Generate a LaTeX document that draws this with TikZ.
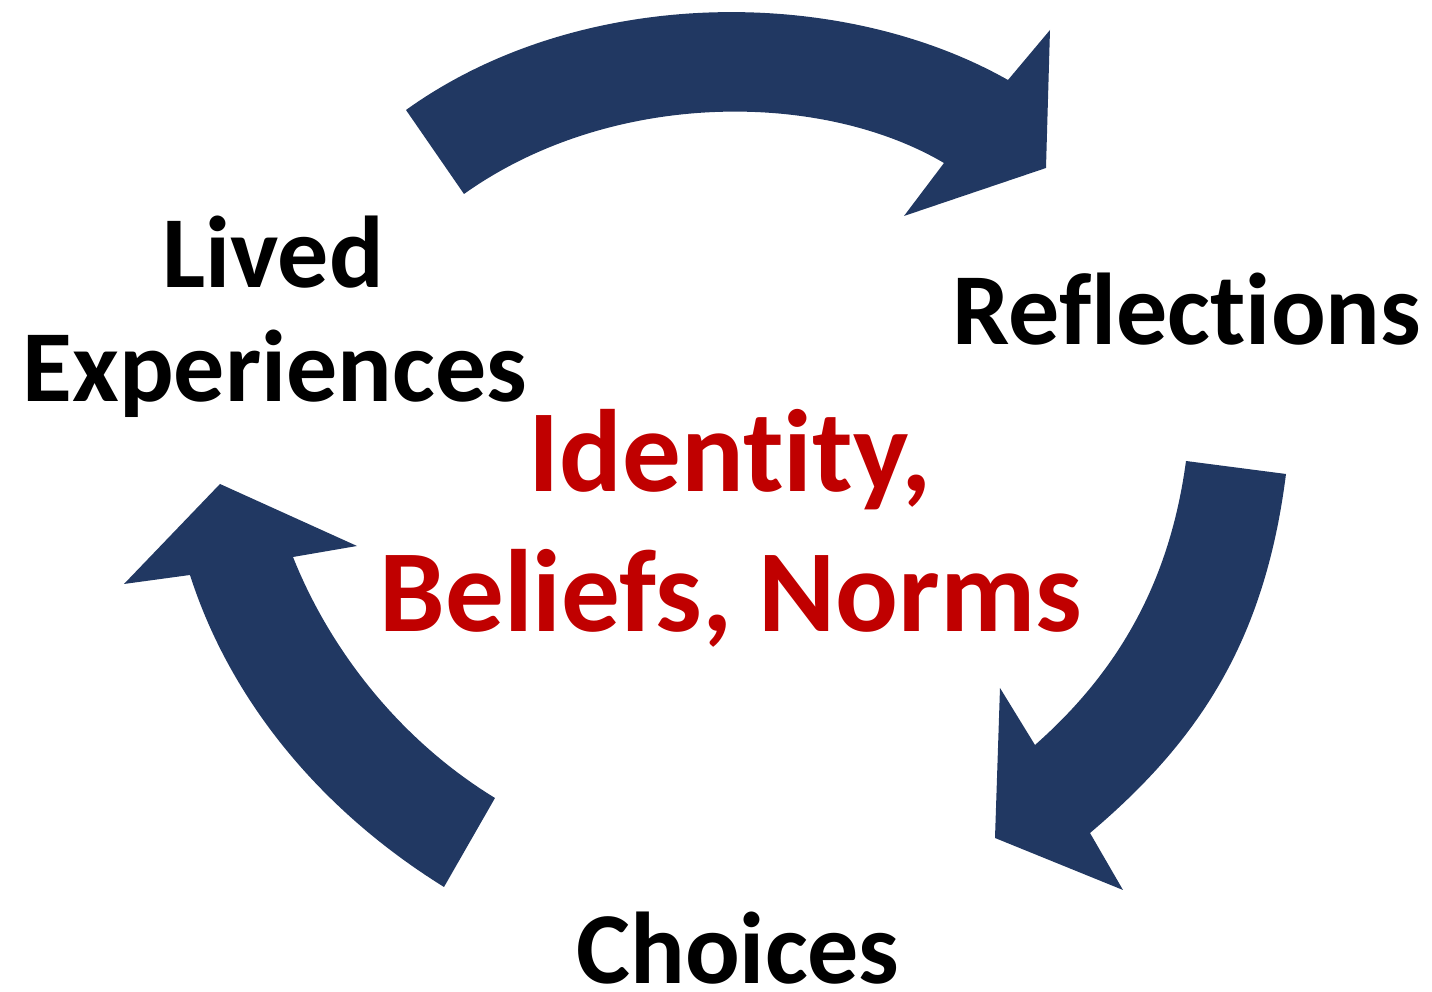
\documentclass[tikz,border=0pt]{standalone}
\usepackage{fontspec}
\setmainfont{Carlito}[Ligatures=NoCommon]
\definecolor{navy}{RGB}{33,56,98}
\definecolor{dred}{RGB}{192,0,0}
\begin{document}
\begin{tikzpicture}[x=0.01cm,y=-0.01cm,
  blockarrow/.style={fill=navy,draw=none},
  steplabel/.style={font=\bfseries\fontsize{29}{34}\selectfont,text=black,inner sep=0pt,align=center},
  corelabel/.style={font=\bfseries\fontsize{33.3}{40}\selectfont,text=dred,inner sep=0pt,align=center}]
\useasboundingbox (0,0) rectangle (1432,992);
% top arrow
\fill[blockarrow] (406,110) .. controls (580,-15) and (840,-15) .. (1008,80)
  -- (1050,30) -- (1046,168) -- (904,216) -- (944,163)
  .. controls (820,90) and (610,90) .. (464,194) -- cycle;
% right arrow
\fill[blockarrow] (1286,474) .. controls (1265,640) and (1200,740) .. (1090,833)
  -- (1123,890) -- (995,838) -- (1000,688) -- (1035,745)
  .. controls (1120,670) and (1170,580) .. (1186,461) -- cycle;
% left arrow
\fill[blockarrow] (444,887) .. controls (320,810) and (230,700) .. (190,575)
  -- (124,584) -- (220,484) -- (357,546) -- (293,557)
  .. controls (330,650) and (400,740) .. (495,798) -- cycle;
\node[steplabel,anchor=base] (lived) at (273,288) {Lived};
\node[steplabel,anchor=base] (exp) at (275,402) {Experiences};
\node[steplabel,anchor=base] (refl) at (1187,345) {Reflections};
\node[steplabel,anchor=base] (choices) at (738,984) {Choices};
\node[corelabel,anchor=base] (id) at (730,492) {Identity,};
\node[corelabel,anchor=base] (bel) at (731,632) {Beliefs, Norms};
\end{tikzpicture}
\end{document}
